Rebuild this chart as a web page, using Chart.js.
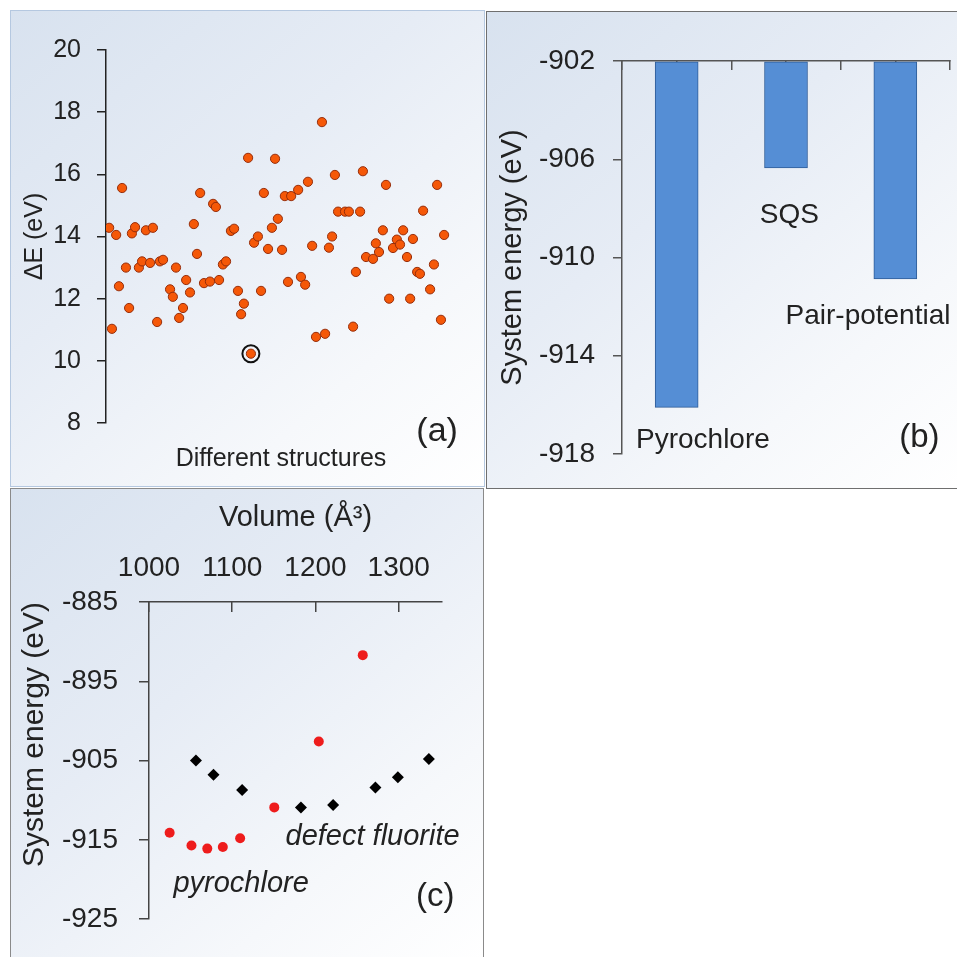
<!DOCTYPE html>
<html>
<head>
  <title>Structure energies</title>
  <script src="https://cdn.jsdelivr.net/npm/chart.js@4.4.0/dist/chart.umd.min.js"></script>
  <style>
    body { margin: 0; background: #fff; width: 957px; height: 957px; position: relative; overflow: hidden; }
    .panel { position: absolute; box-sizing: border-box;
      background: linear-gradient(140deg, #d8e2ef 0%, #e6ecf5 40%, #f6f8fb 75%, #ffffff 100%); }
    canvas { position: absolute; }
  </style>
</head>
<body>
  <div class="panel" style="left:10px;top:10px;width:475px;height:477px;border:1px solid #b5c8e0"></div>
  <div class="panel" style="left:486px;top:11px;width:472px;height:478px;border:1.5px solid #6f6f6f"></div>
  <div class="panel" style="left:10px;top:488px;width:474px;height:475px;border:1px solid #8a8a8a"></div>

  <canvas id="chartA" width="475" height="477" style="left:10px;top:10px"></canvas>
  <canvas id="chartB" width="471" height="478" style="left:486px;top:11px"></canvas>
  <canvas id="chartC" width="474" height="469" style="left:10px;top:488px"></canvas>

  <script>
    // (a) energy difference for the tested structures
    const structIdx = [0.9, 1.7, 2.9, 3.7, 4.6, 5.7, 6.6, 7.4, 8.3, 9.4, 10.3, 11.4, 12.6, 13.4, 14.6, 15.4,
      16.3, 18.3, 19.1, 20.0, 20.9, 22.0, 22.9, 24.0, 25.1, 26.0, 26.9, 28.0, 29.7, 30.6, 31.4, 32.3,
      33.4, 34.3, 35.7, 36.6, 37.7, 38.6, 39.4, 40.6, 41.4, 42.3, 43.4, 44.3, 45.1, 46.3, 47.4, 48.3,
      49.1, 50.3, 51.1, 52.0, 52.9, 54.9, 55.7, 56.9, 57.7, 58.9, 60.0, 61.7, 62.6, 63.7, 64.6, 65.4,
      66.3, 68.3, 69.4, 70.6, 71.4, 72.6, 73.4, 74.3, 76.3, 77.1, 78.0, 79.1, 80.0, 80.9, 82.0, 83.1,
      84.0, 84.9, 86.0, 86.9, 87.7, 88.9, 89.7, 90.6, 92.6, 93.7, 94.6, 95.7, 96.6];
    const deltaE = [14.28, 11.03, 14.05, 12.4, 15.56, 13.0, 11.7, 14.1, 14.3, 13.0, 13.2, 14.2, 13.15, 14.28, 11.25, 13.2,
      13.25, 12.3, 12.06, 13.0, 11.38, 11.7, 12.6, 12.2, 14.4, 13.44, 15.4, 12.5, 12.55, 15.05, 14.95, 12.6,
      13.1, 13.2, 14.18, 14.25, 12.25, 11.5, 11.84, 16.53, 10.23, 13.8, 14.0, 12.25, 15.4, 13.6, 14.28, 16.5,
      14.57, 13.57, 15.3, 12.54, 15.3, 15.5, 12.7, 12.45, 15.76, 13.7, 10.77, 17.68, 10.87, 13.64, 14.0, 15.98,
      14.8, 14.8, 14.8, 11.1, 12.86, 14.8, 16.1, 13.34, 13.28, 13.78, 13.5, 14.2, 15.66, 12.0, 13.63, 13.9,
      13.74, 14.2, 13.34, 12.0, 13.92, 12.86, 12.8, 14.83, 12.3, 13.1, 15.66, 11.32, 14.05];
    const aTicks = [8, 10, 12, 14, 16, 18, 20];

    // (b) system energy of each model
    const bCategories = ['Pyrochlore', 'SQS', 'Pair-potential'];
    const bEnergy = [-916.1, -906.35, -910.87];
    const bTicks = [-918, -914, -910, -906, -902];

    // (c) energy vs volume
    const pyroVolume = [1024.8, 1051.0, 1070.0, 1088.7, 1109.5, 1150.5, 1204.0, 1256.8];
    const pyroEnergy = [-914.1, -915.7, -916.1, -915.9, -914.8, -910.9, -902.6, -891.7];
    const fluoVolume = [1056.4, 1077.5, 1111.9, 1182.5, 1221.2, 1272.0, 1299.0, 1336.2];
    const fluoEnergy = [-905.0, -906.8, -908.7, -910.9, -910.6, -908.4, -907.1, -904.8];
    const cVolTicks = [1000, 1100, 1200, 1300];
    const cEnergyTicks = [-925, -915, -905, -895, -885];

    Chart.defaults.font.family = '"Liberation Sans", Arial, sans-serif';
    Chart.defaults.color = '#222';
    Chart.defaults.animation = false;
    Chart.defaults.plugins.legend.display = false;
    Chart.defaults.plugins.tooltip.enabled = false;

    const FONT = '"Liberation Sans", Arial, sans-serif';

    // draws free text at data coordinates
    const notes = (items) => ({
      id: 'notes',
      afterDatasetsDraw(chart) {
        const { ctx, scales } = chart;
        items.forEach(n => {
          ctx.save();
          ctx.font = n.font;
          ctx.fillStyle = '#222';
          ctx.textAlign = 'center';
          ctx.textBaseline = n.baseline || 'alphabetic';
          ctx.fillText(n.text, scales.x.getPixelForValue(n.x), scales.y.getPixelForValue(n.y));
          ctx.restore();
        });
      }
    });

    const fixTicks = (values) => (scale) => { scale.ticks = values.map(v => ({ value: v })); };

    // ---- panel (a)
    const aPoints = structIdx.map((s, i) => ({ x: s, y: deltaE[i] }));
    const lowest = deltaE.indexOf(Math.min(...deltaE));

    new Chart(document.getElementById('chartA'), {
      type: 'scatter',
      data: {
        datasets: [{
          data: aPoints,
          pointRadius: 4.6,
          pointBackgroundColor: 'rgb(245,88,8)',
          pointBorderColor: 'rgb(150,45,10)',
          pointBorderWidth: 1
        }, {
          data: [aPoints[lowest]],
          pointRadius: 8.5,
          pointBackgroundColor: 'rgba(0,0,0,0)',
          pointBorderColor: '#111',
          pointBorderWidth: 2
        }]
      },
      options: {
        responsive: false,
        layout: { padding: { left: 0, top: 40, right: 29, bottom: 0 } },
        scales: {
          x: {
            type: 'linear', min: 0, max: 100,
            grid: { display: false }, border: { display: false },
            ticks: { display: false },
            title: { display: true, text: 'Different structures', font: { size: 25 }, padding: { top: 0, bottom: 13 } },
            afterFit: s => { s.height = 64; }
          },
          y: {
            min: 8, max: 20,
            afterBuildTicks: fixTicks(aTicks),
            ticks: { font: { size: 25 }, padding: 16, color: '#222', callback: v => String(v) },
            grid: { drawOnChartArea: false, tickLength: 9, color: '#222', lineWidth: 1.5 },
            border: { color: '#222', width: 1.5 },
            title: { display: true, text: 'ΔE (eV)', font: { size: 25 }, padding: { top: 10, bottom: 0 } },
            afterFit: s => { s.width = 96; }
          }
        }
      },
      plugins: [notes([
        { text: '(a)', x: 94.6, y: 7.72, font: '34px ' + FONT, baseline: 'middle' }
      ])]
    });

    // ---- panel (b)
    new Chart(document.getElementById('chartB'), {
      type: 'bar',
      data: {
        datasets: [{
          data: bEnergy.map((e, i) => ({ x: i, y: e })),
          base: bTicks[bTicks.length - 1],
          barThickness: 43,
          backgroundColor: '#558ed5',
          borderColor: '#2f5d99',
          borderWidth: 1,
          borderSkipped: false
        }]
      },
      options: {
        responsive: false,
        layout: { padding: { left: 0, top: 0, right: 7, bottom: 35 } },
        scales: {
          x: {
            type: 'linear', position: 'top', min: -0.5, max: 2.5, offset: false, z: 1,
            ticks: { display: false, stepSize: 0.5 },
            grid: { drawOnChartArea: false, offset: false, tickLength: -9, color: '#555', lineWidth: 1.5 },
            border: { color: '#555', width: 1.5 },
            afterFit: s => { s.height = 50; }
          },
          y: {
            min: -918, max: -902, beginAtZero: false,
            afterBuildTicks: fixTicks(bTicks),
            ticks: { font: { size: 28 }, padding: 18, color: '#222', callback: v => String(v) },
            grid: { drawOnChartArea: false, tickLength: 9, color: '#555', lineWidth: 1.5 },
            border: { color: '#555', width: 1.5 },
            title: { display: true, text: 'System energy (eV)', font: { size: 29 }, padding: { top: 10, bottom: 0 } },
            afterFit: s => { s.width = 136; }
          }
        }
      },
      plugins: [notes([
        { text: bCategories[0], x: 0.24, y: -917.74, font: '28px ' + FONT },
        { text: bCategories[1], x: 1.03, y: -908.59, font: '28px ' + FONT },
        { text: bCategories[2], x: 1.75, y: -912.7, font: '28px ' + FONT },
        { text: '(b)', x: 2.22, y: -917.34, font: '33px ' + FONT, baseline: 'middle' }
      ])]
    });

    // ---- panel (c)
    new Chart(document.getElementById('chartC'), {
      type: 'scatter',
      data: {
        datasets: [{
          data: pyroVolume.map((v, i) => ({ x: v, y: pyroEnergy[i] })),
          pointRadius: 5,
          pointBackgroundColor: '#ee1c1c',
          pointBorderWidth: 0
        }, {
          data: fluoVolume.map((v, i) => ({ x: v, y: fluoEnergy[i] })),
          pointStyle: 'rectRot',
          pointRadius: 6,
          pointBackgroundColor: '#000',
          pointBorderWidth: 0
        }]
      },
      options: {
        responsive: false,
        layout: { padding: { left: 0, top: 0, right: 42, bottom: 15 } },
        scales: {
          x: {
            type: 'linear', position: 'top', min: 1000, max: 1352,
            afterBuildTicks: fixTicks(cVolTicks),
            ticks: { font: { size: 28 }, padding: 27, color: '#222', callback: v => String(v) },
            grid: { drawOnChartArea: false, tickLength: -10, color: '#444', lineWidth: 1.5 },
            border: { color: '#444', width: 1.5 },
            title: { display: true, text: 'Volume (Å³)', font: { size: 29 }, padding: { top: 13, bottom: 0 } },
            afterFit: s => { s.height = 114; }
          },
          y: {
            min: -925, max: -885,
            afterBuildTicks: fixTicks(cEnergyTicks),
            ticks: { font: { size: 28 }, padding: 21, color: '#222', callback: v => String(v) },
            grid: { drawOnChartArea: false, tickLength: 10, color: '#444', lineWidth: 1.5 },
            border: { color: '#444', width: 1.5 },
            title: { display: true, text: 'System energy (eV)', align: 'end', font: { size: 30 }, padding: { top: 7, bottom: 0 } },
            afterFit: s => { s.width = 139; }
          }
        }
      },
      plugins: [notes([
        { text: 'defect fluorite', x: 1268.6, y: -915.6, font: 'italic 29px ' + FONT },
        { text: 'pyrochlore', x: 1110.7, y: -921.6, font: 'italic 29px ' + FONT },
        { text: '(c)', x: 1344, y: -922.2, font: '33px ' + FONT, baseline: 'middle' }
      ])]
    });
  </script>
</body>
</html>
